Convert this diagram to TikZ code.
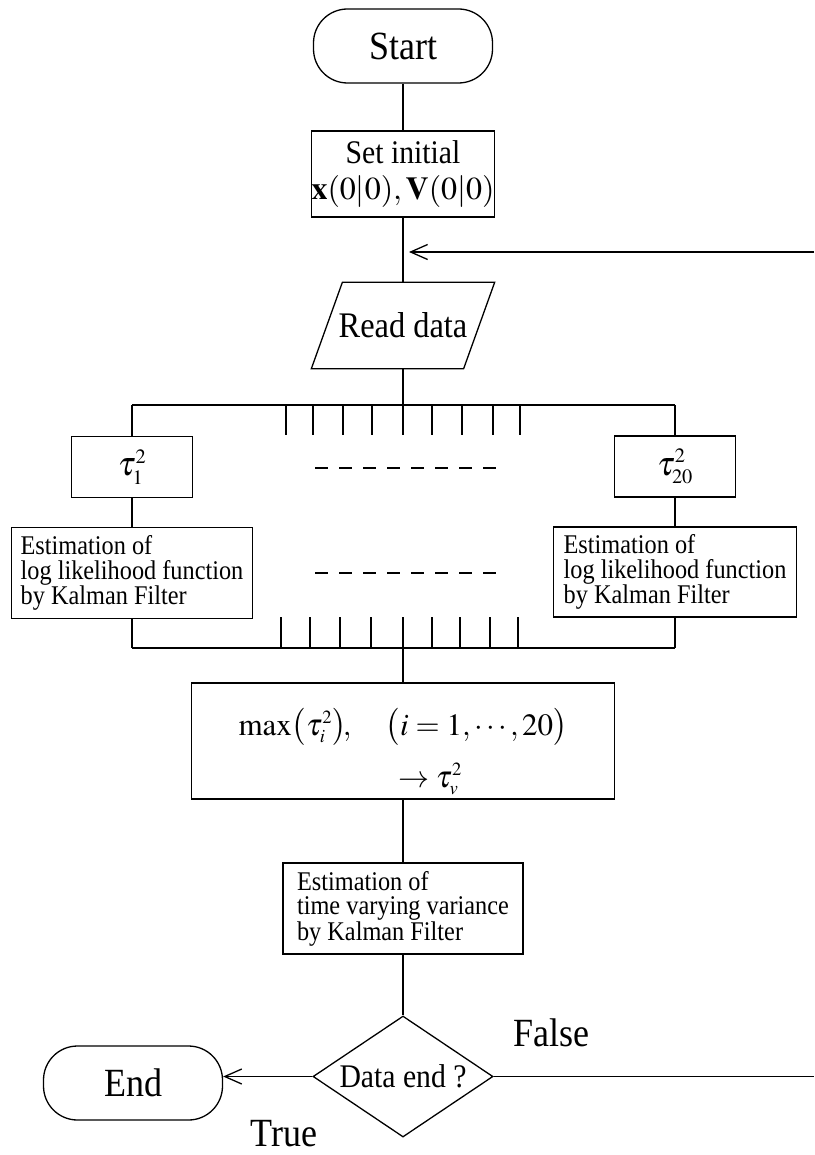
\documentclass[tikz,border=0pt]{standalone}
\usepackage{mathptmx}
\usepackage{fontspec}
\setmainfont{Liberation Serif}[FakeStretch=0.9]
\usetikzlibrary{shapes.geometric,arrows.meta,calc}
\begin{document}
\begin{tikzpicture}[x=1pt,y=-1pt,line width=1.3pt,
  term/.style={draw,rectangle,rounded corners=34pt,minimum width=179pt,minimum height=74pt,inner sep=0pt,font=\fontsize{40}{40}\selectfont},
  proc/.style={draw,rectangle,inner sep=0pt},
  taubox/.style={draw,rectangle,inner sep=0pt,minimum width=121pt,minimum height=61pt,font=\fontsize{34}{34}\selectfont},
  esttext/.style={align=left,font=\fontsize{27}{24.5}\selectfont},
  lbl/.style={inner sep=0pt,font=\fontsize{40}{40}\selectfont},
  arr/.style={-{Straight Barb[length=17pt,width=15pt]}},
  dashline/.style={dash pattern=on 13pt off 11pt}]
\useasboundingbox (0,0) rectangle (814,1155);

% main column
\node[term] (start) at (403,46) {Start};
\node[proc,minimum width=181pt,minimum height=86pt,align=center,font=\fontsize{33}{36}\selectfont] (init) at (403,174)
  {Set initial\\ {\fontsize{32}{36}\selectfont$\mathbf{x}(0|0),\mathbf{V}(0|0)$}};
\node[minimum width=182pt,minimum height=85pt,inner sep=0pt,font=\fontsize{36}{36}\selectfont] (read) at (403,325.5) {Read data};
\draw ([xshift=31pt]read.north west) -- (read.north east) -- ([xshift=-31pt]read.south east) -- (read.south west) -- cycle;

\coordinate (jn) at (403,252);
\coordinate (loopT) at (814,252);
\draw (start) -- (init);
\draw (init) -- (read);
\draw[arr] (loopT) -- ([xshift=6pt]jn);

% upper bus
\coordinate (busTL) at (132,405);
\coordinate (busTR) at (675,405);
\coordinate (tickT) at (403,435);
\draw (busTL) -- (busTR);
\draw (read.south) -- (tickT);
\foreach \x in {286,313,343,372,432,462,493,520} \draw (\x,405) -- (\x,435);

% branches
\node[taubox] (t1) at (132,467) {$\tau_{\scriptscriptstyle 1}^{\scriptscriptstyle 2}$};
\node[taubox] (t20) at (675,466.5) {$\tau_{\scriptscriptstyle 20}^{\scriptscriptstyle 2}$};
\node[proc,esttext,minimum width=241pt,minimum height=91pt] (est1) at (132,573)
  {Estimation of\\log likelihood function\\by Kalman Filter};
\node[proc,esttext,minimum width=243pt,minimum height=90pt] (est20) at (675,572)
  {Estimation of\\log likelihood function\\by Kalman Filter};

\draw[dashline] (315,468) -- (496,468);
\draw[dashline] (315,573) -- (496,573);

% lower bus
\coordinate (busBL) at (132,648);
\coordinate (busBR) at (675,648);
\coordinate (tickB) at (403,617);
\draw (busBL) -- (busBR);
\foreach \x in {281,310,340,371,432,460,490,518} \draw (\x,617) -- (\x,648);

\draw (busTL) -- (t1);
\draw (t1) -- (est1);
\draw (est1) -- (busBL);
\draw (busTR) -- (t20);
\draw (t20) -- (est20);
\draw (est20) -- (busBR);

\node[proc,minimum width=423pt,minimum height=116pt,align=center,font=\fontsize{31}{52}\selectfont] (mx) at (403,741)
  {\mbox{}\\[-4pt]$\max\bigl(\tau_{\scriptscriptstyle i}^{\scriptscriptstyle 2}\bigr)\!,\quad\bigl(i=1,\cdots,20\bigr)$\\
   \hspace*{54pt}$\to\tau_{\scriptscriptstyle v}^{\scriptscriptstyle 2}$};
\draw (tickB) -- (mx);

\node[proc,esttext,minimum width=240pt,minimum height=91pt] (est) at (403,908.5)
  {Estimation of\\time varying variance\\by Kalman Filter};
\draw (mx) -- (est);

\node[draw,diamond,aspect=1.49,minimum width=180pt,minimum height=121pt,inner sep=0pt,font=\fontsize{33}{33}\selectfont] (dec) at (403,1076.5) {Data end ?};
\draw (est) -- (dec);

\node[term] (end) at (133,1083) {End};
\draw[arr] (dec.west) -- (dec.west -| end.east);

\coordinate (loopB) at (814,1076.5);
\draw (dec.east) -- (loopB);

\node[lbl] (fl) at (551,1033) {False};
\node[lbl] (tr) at (284,1134) {True};
\end{tikzpicture}
\end{document}
